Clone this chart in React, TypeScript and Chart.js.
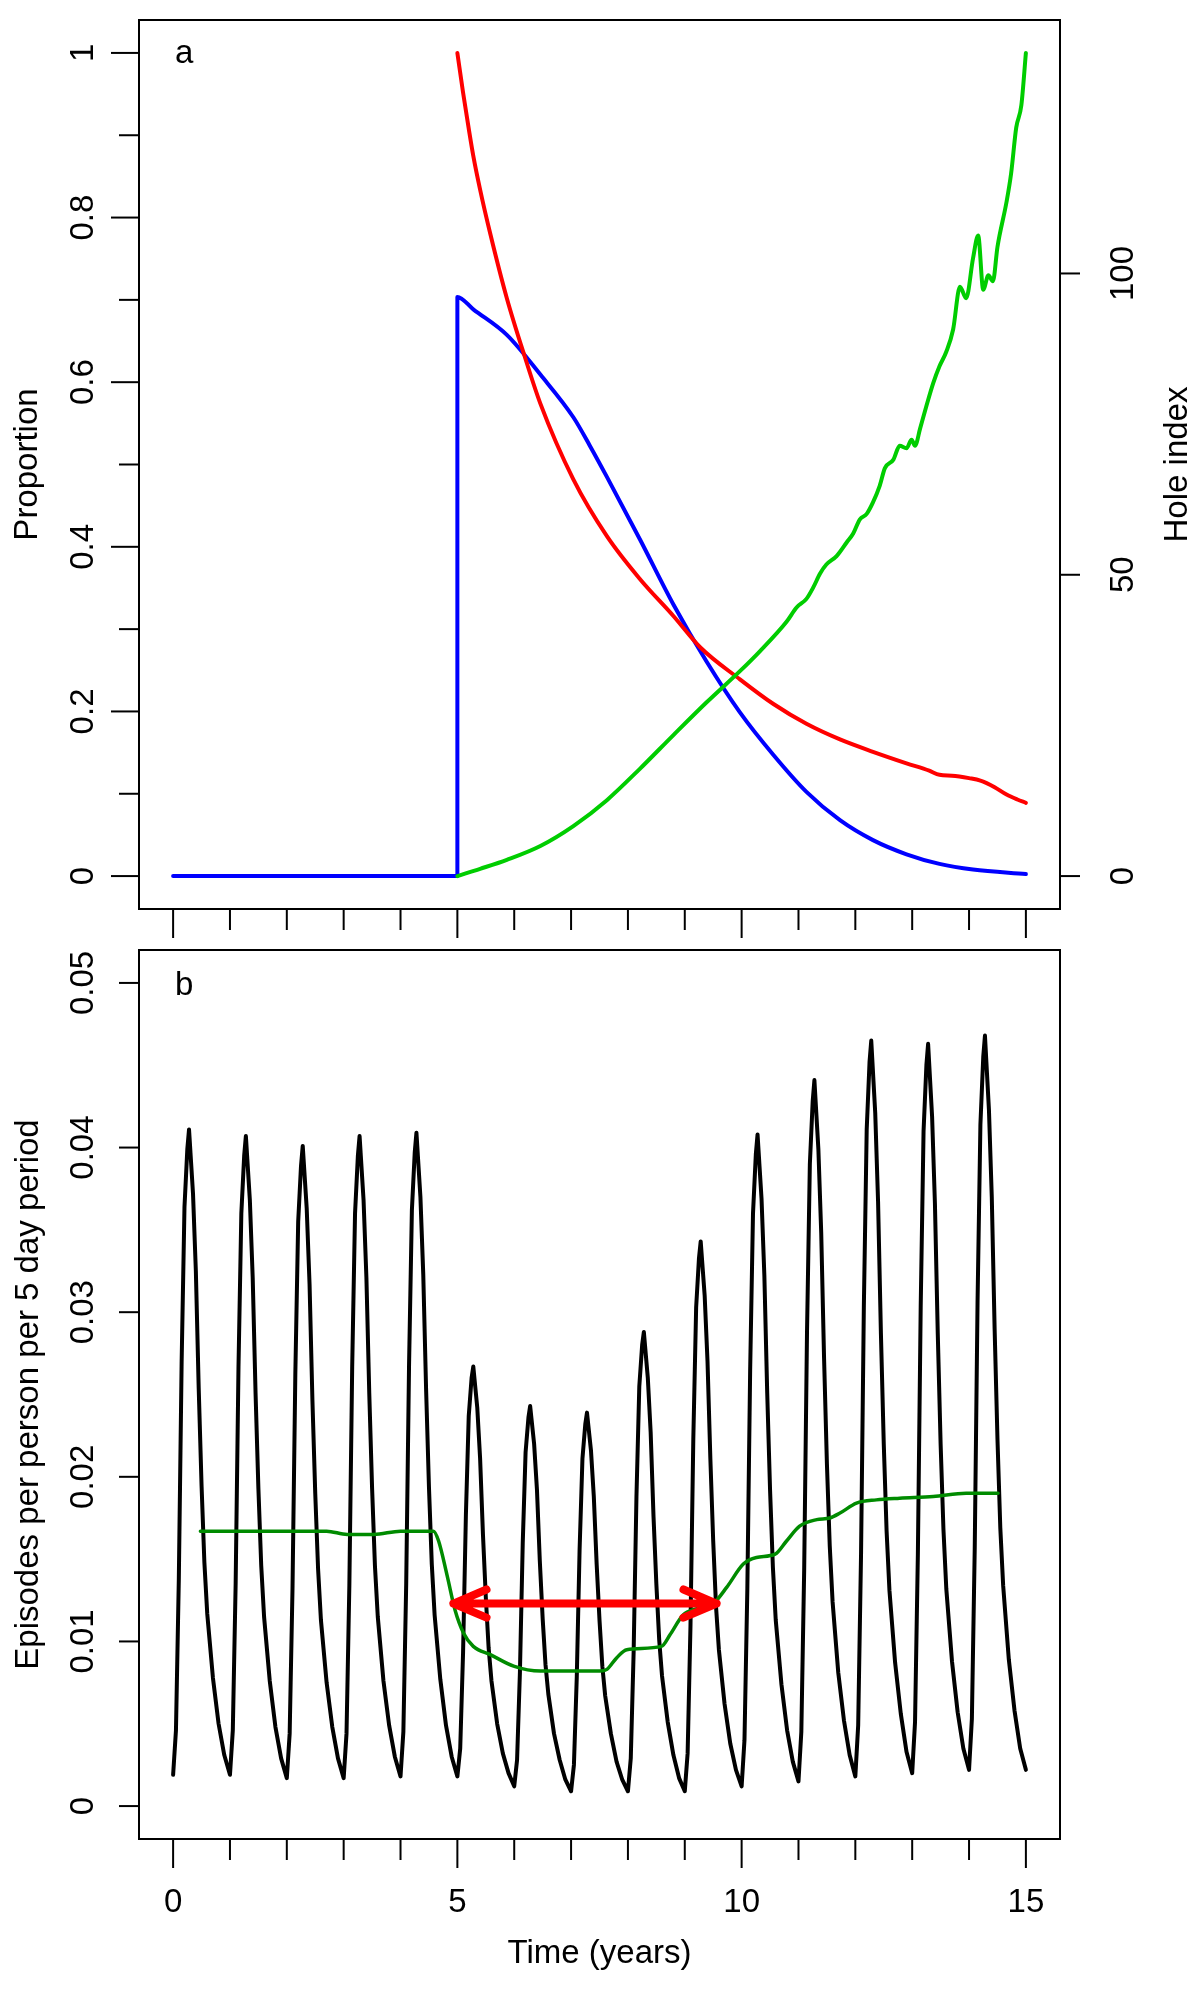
import React, { useEffect, useRef } from "react";
import { Chart, registerables } from "chart.js";

Chart.register(...registerables);

// ---------------- Panel a data ----------------
const redTime = [5.0, 5.1, 5.2, 5.28, 5.4, 5.58, 5.87, 6.19, 6.46, 7.04, 7.63, 8.21, 8.8, 9.27, 9.97, 10.56, 11.14, 11.73, 12.31, 12.9, 13.3, 13.48, 13.7, 13.83, 14.0, 14.2, 14.31, 14.45, 14.66, 14.85, 15.0];
const redProportion = [1.0, 0.952, 0.908, 0.875, 0.834, 0.78, 0.702, 0.63, 0.574, 0.482, 0.413, 0.361, 0.316, 0.278, 0.239, 0.209, 0.185, 0.166, 0.151, 0.137, 0.128, 0.123, 0.122, 0.121, 0.119, 0.116, 0.113, 0.108, 0.099, 0.093, 0.089];

const blueTime = [0, 5.0, 5.0, 5.28, 5.87, 6.46, 7.04, 7.33, 7.63, 8.21, 8.8, 9.38, 9.97, 10.56, 11.14, 11.73, 12.31, 12.9, 13.48, 14.07, 15.0];
const blueProportion = [0, 0, 0.7036, 0.6885, 0.6574, 0.6092, 0.5574, 0.5229, 0.485, 0.4092, 0.3299, 0.261, 0.1989, 0.1471, 0.1023, 0.0679, 0.0437, 0.0265, 0.0148, 0.0079, 0.0024];

const holeTime = [5.0, 5.4, 5.87, 6.46, 7.04, 7.63, 8.21, 8.8, 9.38, 9.97, 10.32, 10.79, 10.97, 11.14, 11.26, 11.38, 11.49, 11.67, 11.85, 11.96, 12.08, 12.2, 12.31, 12.43, 12.52, 12.67, 12.78, 12.9, 12.99, 13.05, 13.14, 13.25, 13.37, 13.48, 13.6, 13.72, 13.84, 13.95, 14.07, 14.16, 14.25, 14.34, 14.42, 14.5, 14.66, 14.74, 14.83, 14.92, 15.0];
const holeIndex = [0, 1.2, 2.7, 5.0, 8.3, 12.6, 17.8, 23.4, 28.8, 34.0, 37.3, 42.2, 44.6, 46.0, 47.9, 50.2, 51.7, 53.1, 55.4, 56.8, 59.2, 60.1, 62.0, 64.8, 67.7, 69.1, 71.4, 71.0, 72.4, 71.4, 74.3, 78.0, 81.8, 84.6, 87.0, 90.7, 97.8, 95.9, 102.5, 106.3, 97.3, 99.7, 98.7, 104.4, 111.9, 116.6, 124.2, 127.9, 136.6];

const propTicks = [0, 0.1, 0.2, 0.3, 0.4, 0.5, 0.6, 0.7, 0.8, 0.9, 1.0];
const propLabels = ["0", "", "0.2", "", "0.4", "", "0.6", "", "0.8", "", "1"];
const holeTicks = [0, 50, 100];
const holeLabels = ["0", "50", "100"];

// ---------------- Panel b data ----------------
const cycleOffsets = [0, 0.05, 0.1, 0.15, 0.2, 0.25, 0.28, 0.35, 0.4, 0.45, 0.5, 0.55, 0.6, 0.7, 0.8, 0.9];
const episodeCycles = [
  [0.0019, 0.0046, 0.0137, 0.027, 0.0364, 0.0399, 0.0411, 0.0372, 0.0325, 0.0254, 0.0195, 0.0148, 0.0117, 0.0078, 0.005, 0.0031],
  [0.0019, 0.0046, 0.0135, 0.0267, 0.036, 0.0395, 0.0407, 0.0368, 0.0321, 0.0251, 0.0193, 0.0146, 0.0115, 0.0076, 0.0048, 0.0029],
  [0.0017, 0.0044, 0.0132, 0.0263, 0.0355, 0.0389, 0.0401, 0.0363, 0.0317, 0.0247, 0.019, 0.0144, 0.0113, 0.0075, 0.0048, 0.0029],
  [0.0017, 0.0044, 0.0134, 0.0267, 0.036, 0.0395, 0.0407, 0.0368, 0.0321, 0.0251, 0.0193, 0.0146, 0.0115, 0.0076, 0.0049, 0.003],
  [0.0018, 0.0045, 0.0135, 0.0268, 0.0362, 0.0397, 0.0409, 0.037, 0.0323, 0.0253, 0.0194, 0.0147, 0.0116, 0.0077, 0.0049, 0.003],
  [0.0018, 0.0035, 0.0093, 0.0177, 0.0237, 0.026, 0.0267, 0.0242, 0.0211, 0.0165, 0.0127, 0.0096, 0.0076, 0.005, 0.0032, 0.002],
  [0.0012, 0.0028, 0.0081, 0.016, 0.0215, 0.0236, 0.0243, 0.022, 0.0192, 0.0149, 0.0114, 0.0086, 0.0068, 0.0044, 0.0028, 0.0016],
  [0.0009, 0.0025, 0.0078, 0.0156, 0.0211, 0.0232, 0.0239, 0.0216, 0.0188, 0.0147, 0.0113, 0.0085, 0.0067, 0.0044, 0.0027, 0.0016],
  [0.0009, 0.0029, 0.0093, 0.0188, 0.0255, 0.028, 0.0288, 0.026, 0.0227, 0.0176, 0.0135, 0.0101, 0.0079, 0.0051, 0.0031, 0.0017],
  [0.0009, 0.0032, 0.0109, 0.0223, 0.0303, 0.0333, 0.0343, 0.031, 0.027, 0.0211, 0.0161, 0.0121, 0.0095, 0.0062, 0.0038, 0.0022],
  [0.0012, 0.004, 0.0131, 0.0265, 0.036, 0.0396, 0.0408, 0.0369, 0.0322, 0.0251, 0.0192, 0.0145, 0.0113, 0.0074, 0.0046, 0.0027],
  [0.0015, 0.0045, 0.0143, 0.0288, 0.039, 0.0428, 0.0441, 0.0399, 0.0348, 0.0272, 0.0208, 0.0158, 0.0124, 0.0081, 0.0052, 0.0031],
  [0.0018, 0.0049, 0.0152, 0.0304, 0.0411, 0.0452, 0.0465, 0.0421, 0.0367, 0.0287, 0.022, 0.0167, 0.0131, 0.0087, 0.0056, 0.0033],
  [0.002, 0.0051, 0.0153, 0.0304, 0.041, 0.045, 0.0463, 0.0419, 0.0366, 0.0287, 0.022, 0.0168, 0.0132, 0.0088, 0.0057, 0.0035],
  [0.0022, 0.0053, 0.0156, 0.0307, 0.0414, 0.0455, 0.0468, 0.0423, 0.037, 0.029, 0.0223, 0.0169, 0.0134, 0.0089, 0.0058, 0.0035],
];
const episodeEndTime = 15.0;
const episodeEndValue = 0.0022;

const avgTime = [0.48, 1.18, 2.06, 2.7, 3.06, 3.53, 4.0, 4.58, 4.67, 4.82, 4.96, 5.11, 5.28, 5.58, 5.99, 6.46, 7.04, 7.51, 7.63, 7.8, 7.98, 8.59, 8.74, 8.97, 9.21, 9.5, 9.74, 10.03, 10.26, 10.59, 10.79, 11.02, 11.32, 11.55, 11.73, 12.02, 12.37, 12.78, 13.37, 13.95, 14.51];
const avgEpisodes = [0.0167, 0.0167, 0.0167, 0.0167, 0.0165, 0.0165, 0.0167, 0.0167, 0.0161, 0.014, 0.0119, 0.0105, 0.0097, 0.0092, 0.0085, 0.0082, 0.0082, 0.0082, 0.0083, 0.009, 0.0095, 0.0097, 0.0104, 0.0116, 0.012, 0.0123, 0.0133, 0.0147, 0.0151, 0.0153, 0.0161, 0.017, 0.0174, 0.0175, 0.0178, 0.0184, 0.0186, 0.0187, 0.0188, 0.019, 0.019];

const arrowTimes = [4.93, 9.56];
const arrowLevel = 0.0123;

const episodeTicks = [0, 0.01, 0.02, 0.03, 0.04, 0.05];
const episodeLabels = ["0", "0.01", "0.02", "0.03", "0.04", "0.05"];

const timeTicks = [0, 1, 2, 3, 4, 5, 6, 7, 8, 9, 10, 11, 12, 13, 14, 15];
const timeLabels = ["0", "", "", "", "", "5", "", "", "", "", "10", "", "", "", "", "15"];

// ---------------- styling ----------------
const FONT = '33px "Liberation Sans", Arial, Helvetica, sans-serif';

const rAxesPlugin: any = {
  id: "rAxes",
  afterDatasetsDraw(chart: any, _args: any, opts: any) {
    if (!opts.arrow) return;
    const { ctx, scales } = chart;
    const a = opts.arrow;
    const x0 = scales.x.getPixelForValue(a.from);
    const x1 = scales.x.getPixelForValue(a.to);
    const y = scales.y.getPixelForValue(a.level);
    const len = 36;
    const ang = (23 * Math.PI) / 180;
    ctx.save();
    ctx.strokeStyle = "#FF0000";
    ctx.lineWidth = 8;
    ctx.lineCap = "round";
    ctx.lineJoin = "round";
    ctx.beginPath();
    ctx.moveTo(x0, y);
    ctx.lineTo(x1, y);
    ctx.moveTo(x0 + len * Math.cos(ang), y - len * Math.sin(ang));
    ctx.lineTo(x0, y);
    ctx.lineTo(x0 + len * Math.cos(ang), y + len * Math.sin(ang));
    ctx.moveTo(x1 - len * Math.cos(ang), y - len * Math.sin(ang));
    ctx.lineTo(x1, y);
    ctx.lineTo(x1 - len * Math.cos(ang), y + len * Math.sin(ang));
    ctx.stroke();
    ctx.restore();
  },
  afterDraw(chart: any, _args: any, opts: any) {
    const ctx = chart.ctx;
    const area = chart.chartArea;
    ctx.save();
    ctx.strokeStyle = "#000";
    ctx.fillStyle = "#000";
    ctx.lineWidth = 2;
    ctx.lineCap = "butt";
    ctx.strokeRect(area.left, area.top, area.right - area.left, area.bottom - area.top);
    ctx.font = FONT;
    for (const ax of opts.axes || []) {
      const scale = chart.scales[ax.scaleId];
      ax.values.forEach((v: number, i: number) => {
        const p = scale.getPixelForValue(v);
        const label = ax.labels[i];
        const len = label ? ax.majorLen : ax.minorLen;
        ctx.beginPath();
        if (ax.side === "left") {
          ctx.moveTo(area.left, p);
          ctx.lineTo(area.left - len, p);
        } else if (ax.side === "right") {
          ctx.moveTo(area.right, p);
          ctx.lineTo(area.right + len, p);
        } else {
          ctx.moveTo(p, area.bottom);
          ctx.lineTo(p, area.bottom + len);
        }
        ctx.stroke();
        if (label && ax.showLabels) {
          if (ax.side === "bottom") {
            ctx.textAlign = "center";
            ctx.textBaseline = "alphabetic";
            ctx.fillText(label, p, ax.labelPos);
          } else {
            ctx.save();
            ctx.translate(ax.labelPos, p);
            ctx.rotate(-Math.PI / 2);
            ctx.textAlign = "center";
            ctx.textBaseline = "alphabetic";
            ctx.fillText(label, 0, 0);
            ctx.restore();
          }
        }
      });
    }
    for (const t of opts.titles || []) {
      if (t.rotated) {
        ctx.save();
        ctx.translate(t.pos, (area.top + area.bottom) / 2);
        ctx.rotate(-Math.PI / 2);
        ctx.textAlign = "center";
        ctx.textBaseline = "alphabetic";
        ctx.fillText(t.text, 0, 0);
        ctx.restore();
      } else {
        ctx.textAlign = "center";
        ctx.textBaseline = "alphabetic";
        ctx.fillText(t.text, (area.left + area.right) / 2, t.pos);
      }
    }
    if (opts.letter) {
      ctx.textAlign = "left";
      ctx.textBaseline = "alphabetic";
      ctx.fillText(opts.letter.text, opts.letter.x, opts.letter.y);
    }
    ctx.restore();
  },
};

function pts(xs: number[], ys: number[]) {
  return xs.map((x, i) => ({ x, y: ys[i] }));
}

function episodePoints() {
  const out: { x: number; y: number }[] = [];
  episodeCycles.forEach((cyc, k) => {
    cyc.forEach((v, j) => out.push({ x: k + cycleOffsets[j], y: v }));
  });
  out.push({ x: episodeEndTime, y: episodeEndValue });
  return out;
}

const lineBase = {
  pointRadius: 0,
  borderCapStyle: "round",
  borderJoinStyle: "round",
  fill: false,
};

export default function App() {
  const refA = useRef<HTMLCanvasElement>(null);
  const refB = useRef<HTMLCanvasElement>(null);

  useEffect(() => {
    document.body.style.margin = "0";
    const chartA = new Chart(refA.current as HTMLCanvasElement, {
      type: "line",
      data: {
        datasets: [
          { ...lineBase, label: "Hole index", data: pts(holeTime, holeIndex), yAxisID: "yH", borderColor: "#00CD00", borderWidth: 4, cubicInterpolationMode: "monotone" } as any,
          { ...lineBase, label: "Red", data: pts(redTime, redProportion), yAxisID: "y", borderColor: "#FF0000", borderWidth: 4, cubicInterpolationMode: "monotone" } as any,
          { ...lineBase, label: "Blue", data: pts(blueTime, blueProportion), yAxisID: "y", borderColor: "#0000FF", borderWidth: 4, cubicInterpolationMode: "monotone" } as any,
        ],
      },
      options: {
        responsive: false,
        animation: false,
        devicePixelRatio: 1,
        events: [],
        layout: { padding: { left: 139, right: 140, top: 20, bottom: 36 } },
        scales: {
          x: { type: "linear", min: -0.6, max: 15.6, display: false },
          y: { type: "linear", min: -0.04, max: 1.04, display: false },
          yH: { type: "linear", position: "right", min: -5.464, max: 142.06, display: false },
        },
        plugins: {
          legend: { display: false },
          tooltip: { enabled: false },
          rAxes: {
            axes: [
              { scaleId: "x", side: "bottom", values: timeTicks, labels: timeLabels, majorLen: 29, minorLen: 21, showLabels: false },
              { scaleId: "y", side: "left", values: propTicks, labels: propLabels, majorLen: 28, minorLen: 20, showLabels: true, labelPos: 93 },
              { scaleId: "yH", side: "right", values: holeTicks, labels: holeLabels, majorLen: 20, minorLen: 20, showLabels: true, labelPos: 1133 },
            ],
            titles: [
              { text: "Proportion", rotated: true, pos: 37 },
              { text: "Hole index", rotated: true, pos: 1187 },
            ],
            letter: { text: "a", x: 175, y: 63 },
          },
        } as any,
      },
      plugins: [rAxesPlugin],
    } as any);

    const chartB = new Chart(refB.current as HTMLCanvasElement, {
      type: "line",
      data: {
        datasets: [
          { ...lineBase, label: "Moving average", data: pts(avgTime, avgEpisodes), borderColor: "#008B00", borderWidth: 3.5, cubicInterpolationMode: "monotone" } as any,
          { ...lineBase, label: "Episodes", data: episodePoints(), borderColor: "#000000", borderWidth: 4, tension: 0 } as any,
        ],
      },
      options: {
        responsive: false,
        animation: false,
        devicePixelRatio: 1,
        events: [],
        layout: { padding: { left: 139, right: 140, top: 5, bottom: 161 } },
        scales: {
          x: { type: "linear", min: -0.6, max: 15.6, display: false },
          y: { type: "linear", min: -0.002, max: 0.052, display: false },
        },
        plugins: {
          legend: { display: false },
          tooltip: { enabled: false },
          rAxes: {
            axes: [
              { scaleId: "x", side: "bottom", values: timeTicks, labels: timeLabels, majorLen: 29, minorLen: 21, showLabels: true, labelPos: 967 },
              { scaleId: "y", side: "left", values: episodeTicks, labels: episodeLabels, majorLen: 20, minorLen: 20, showLabels: true, labelPos: 93 },
            ],
            titles: [
              { text: "Episodes per person per 5 day period", rotated: true, pos: 38 },
              { text: "Time (years)", rotated: false, pos: 1018 },
            ],
            letter: { text: "b", x: 175, y: 50 },
            arrow: { from: arrowTimes[0], to: arrowTimes[1], level: arrowLevel },
          },
        } as any,
      },
      plugins: [rAxesPlugin],
    } as any);

    return () => {
      chartA.destroy();
      chartB.destroy();
    };
  }, []);

  return (
    <div style={{ position: "absolute", left: 0, top: 0, width: 1200, height: 2000, background: "#ffffff" }}>
      <canvas ref={refA} width={1200} height={945} style={{ position: "absolute", left: 0, top: 0 }} />
      <canvas ref={refB} width={1200} height={1055} style={{ position: "absolute", left: 0, top: 945 }} />
    </div>
  );
}
